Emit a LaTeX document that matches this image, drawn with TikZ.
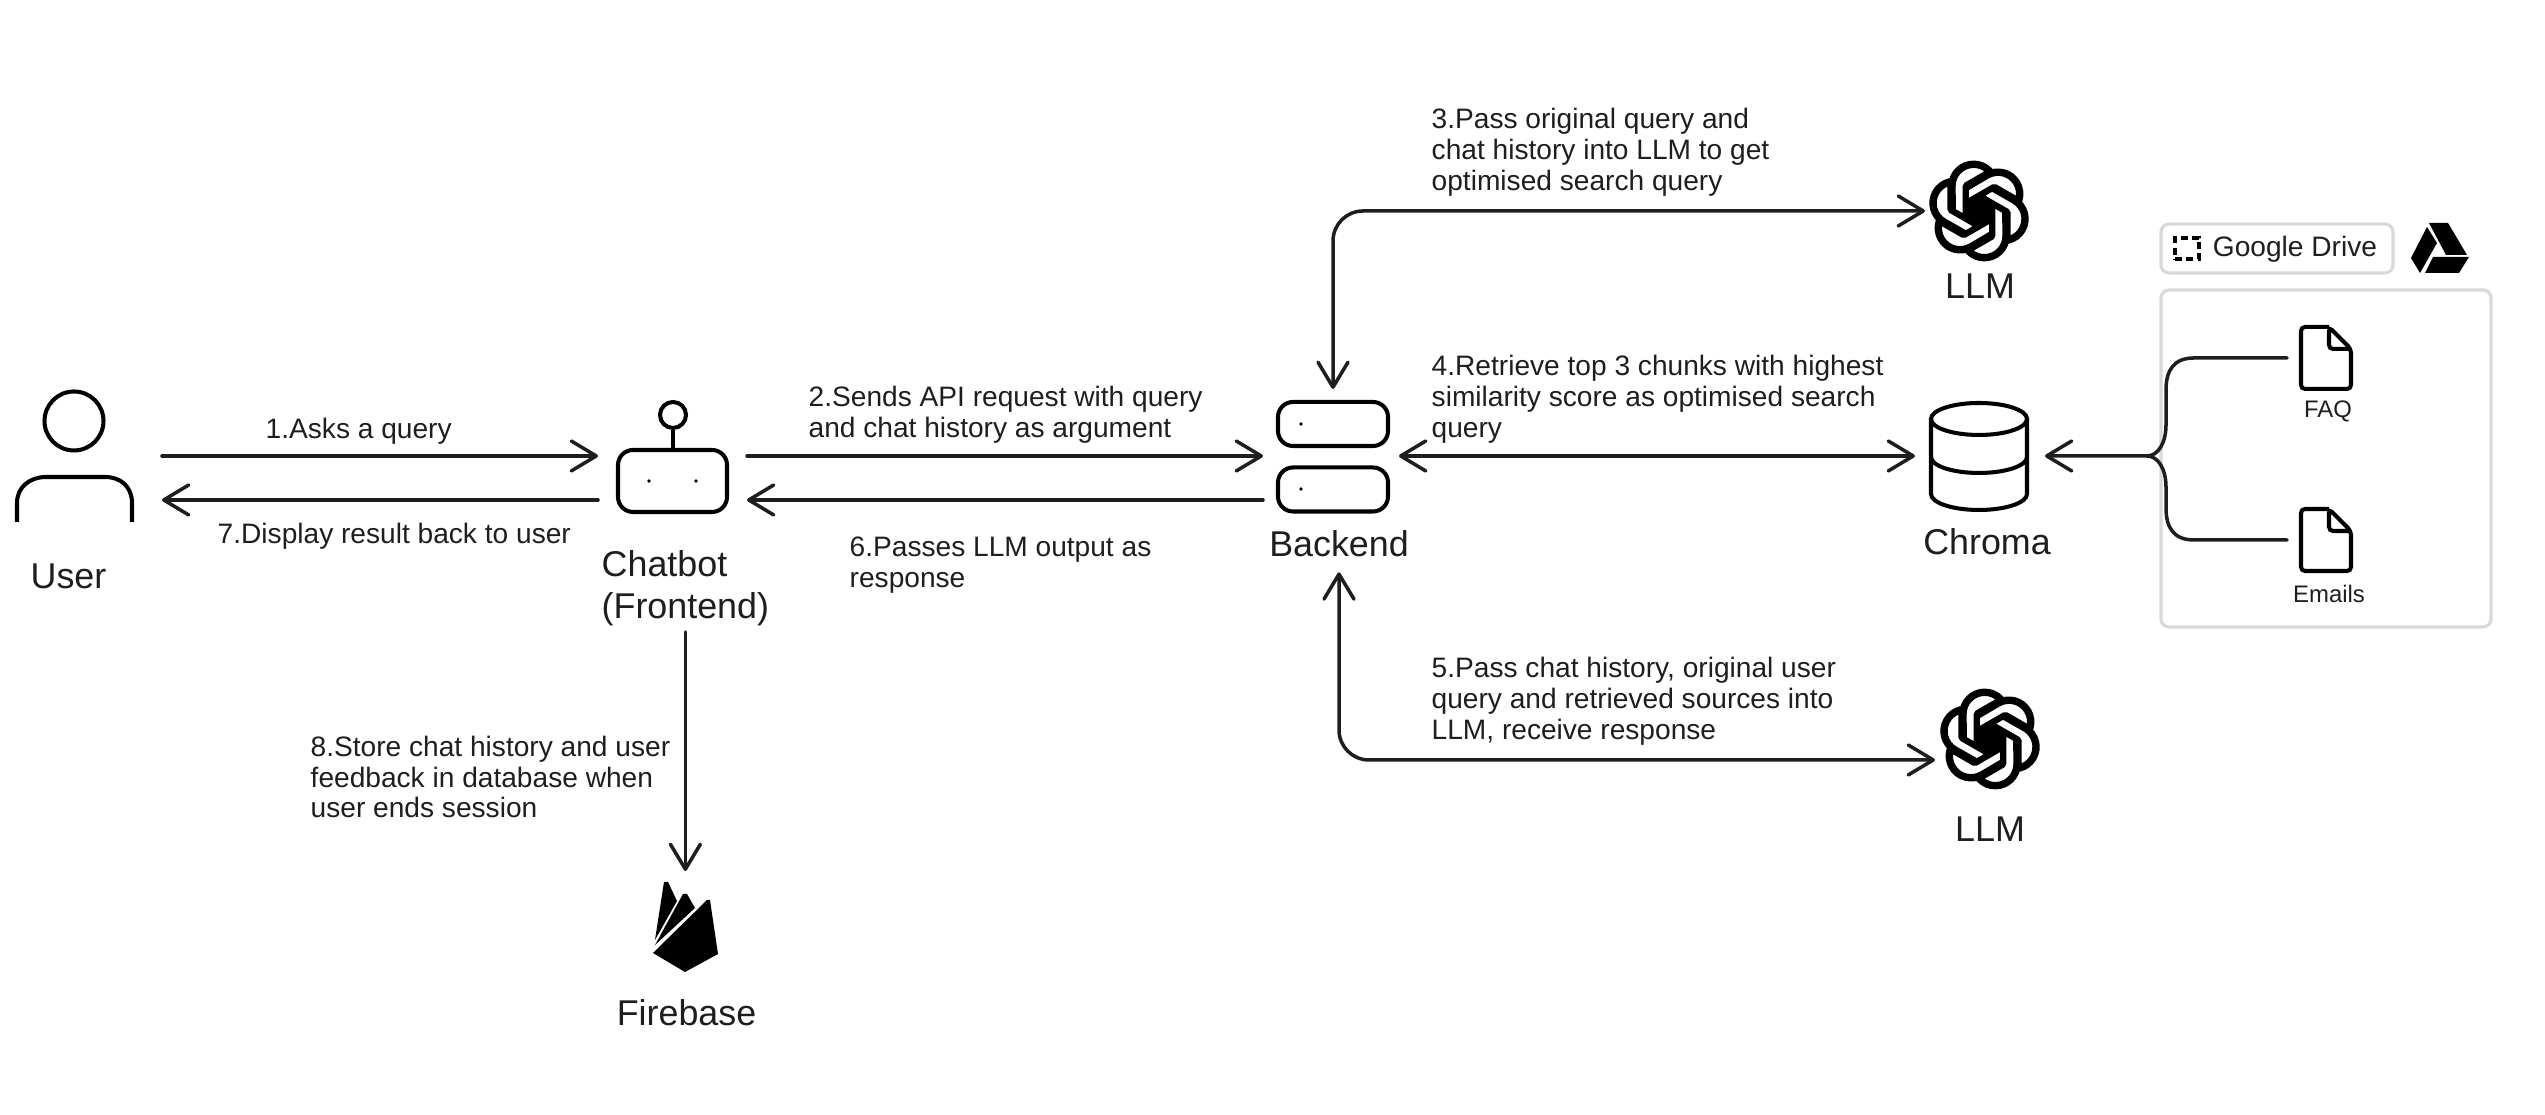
\documentclass[tikz,border=0pt]{standalone}
\usepackage{fontspec}
\setmainfont{Liberation Sans}
\usetikzlibrary{arrows.meta, positioning}

\definecolor{ink}{HTML}{1E1E1E}
\definecolor{panel}{HTML}{D8D9DD}

\tikzset{
  >={Straight Barb[length=2.5mm,width=3mm,round]},
  flow/.style={line width=1pt, color=ink, line cap=round},
  icon/.style={line width=1.15pt, color=black},
  hub/.style={inner sep=0pt, outer sep=0pt},
  note/.style={font=\fontsize{8}{8.8}\selectfont, align=left, anchor=west, inner sep=0pt, text=ink},
  title/.style={font=\fontsize{10.2}{12}\selectfont, align=left, inner sep=1.5mm, text=ink},
  small/.style={font=\fontsize{6.8}{8}\selectfont, inner sep=0pt, text=ink},
  frame/.style={draw=panel, line width=0.9pt, rounded corners=0.8mm, inner sep=0pt}
}

\newcommand{\llmicon}[1]{
  \foreach \a in {0,60,...,300}
    \fill[black, shift={(#1)}, scale=0.0421, yscale=-1, rotate=\a] (1.26,5.93) circle (6.05);
  \fill[black, shift={(#1)}] (0,0) circle (0.25);
  \foreach \a in {0,60,...,300}
    \filldraw[fill=white, draw=black, line width=.5pt, shift={(#1)}, scale=0.0421, yscale=-1, rotate=\a]
      (1.26,10.43) .. controls (0.2,10.43) and (-0.78,10.05) .. (-1.62,9.39)
      -- (-1.48,9.31) -- (3.30,6.55) .. controls (3.55,6.41) and (3.69,6.15) .. (3.69,5.87)
      -- (3.69,-0.87) -- (5.71,0.30) -- (5.75,5.93)
      .. controls (5.75,8.41) and (3.74,10.43) .. (1.26,10.43) -- cycle;
}

\begin{document}
\begin{tikzpicture}
  \useasboundingbox (0,0) rectangle (25.45,11.15);

  % Attachment points
  \node[hub, minimum width=1.62cm, minimum height=.44cm] (user) at (.81,6.37) {};
  \node[hub, minimum width=1.49cm, minimum height=.44cm] (chatbot) at (6.725,6.37) {};
  \node[hub, minimum width=1.36cm, minimum height=.44cm] (backend) at (13.31,6.37) {};
  \node[hub, minimum width=1.30cm, minimum height=1.07cm] (chroma) at (19.80,6.59) {};
  \node[hub, minimum width=1.08cm, minimum height=1.04cm] (llmA) at (19.79,9.04) {};
  \node[hub, minimum width=1.10cm, minimum height=.42cm] (llmB) at (19.90,3.76) {};
  \node[hub, minimum width=.65cm, minimum height=1.12cm] (firebase) at (6.85,1.88) {};
  \node[hub, minimum width=.78cm, minimum height=.61cm] (fileA) at (23.26,7.57) {};
  \node[hub, minimum width=.78cm, minimum height=.61cm] (fileB) at (23.26,5.75) {};
  \coordinate (merge) at (21.47,6.59);

  % User
  \draw[icon] (.74,6.94) circle (.295);
  \draw[icon] (.17,5.93) -- (.17,6.12) .. controls (.17,6.28) and (.30,6.38) .. (.46,6.38)
    -- (1.05,6.38) .. controls (1.21,6.38) and (1.32,6.28) .. (1.32,6.12) -- (1.32,5.93);
  \node[title] (userlabel) at (.685,5.385) {User};

  % Chatbot
  \node[draw, icon, rounded corners=1.5mm, minimum width=1.09cm, minimum height=.62cm, inner sep=0pt] (chatbox) at (6.725,6.34) {};
  \node[draw, icon, circle, minimum size=.26cm, inner sep=0pt] (antenna) at (6.73,7.00) {};
  \draw[icon] (antenna.south) -- (antenna.south |- chatbox.north);
  \foreach \x in {6.49,6.96}
    \fill (\x,6.34) circle (.018);
  \node[title, anchor=west, inner xsep=0pt, inner ysep=.55mm] (chatlabel) at (6.01,5.27) {Chatbot\\(Frontend)};

  % Backend
  \node[draw, icon, rounded corners=1.5mm, minimum width=1.10cm, minimum height=.44cm, inner sep=0pt] (srvA) at (13.33,6.91) {};
  \node[draw, icon, rounded corners=1.5mm, minimum width=1.10cm, minimum height=.44cm, inner sep=0pt] (srvB) at (13.33,6.255) {};
  \foreach \y in {6.91,6.26}
    \fill (13.01,\y) circle (.018);
  \node[title] (backendlabel) at (13.39,5.715) {Backend};

  % LLM
  \llmicon{llmA}
  \llmicon{llmB}
  \node[title] (llmAlabel) at (19.80,8.29) {LLM};
  \node[title] (llmBlabel) at (19.90,2.855) {LLM};

  % Chroma
  \draw[icon] (19.79,6.96) ellipse [x radius=.48, y radius=.16];
  \draw[icon] (19.31,6.96) -- (19.31,6.21) arc [start angle=180, end angle=360, x radius=.48, y radius=.16] -- (20.27,6.96);
  \draw[icon] (19.31,6.58) arc [start angle=180, end angle=360, x radius=.48, y radius=.16];
  \node[title] (chromalabel) at (19.87,5.73) {Chroma};

  % Firebase
  \fill[black] (6.55,1.75) -- (6.64,2.33) -- (6.68,2.33) -- (6.77,2.14) -- cycle;
  \fill[black] (6.55,1.70) -- (6.83,2.21) -- (6.87,2.21) -- (6.95,2.07) -- cycle;
  \fill[black] (6.53,1.62) -- (7.07,2.15) -- (7.10,2.15) -- (7.18,1.61) -- (6.85,1.43) -- cycle;
  \node[title] (firebaselabel) at (6.865,1.02) {Firebase};

  % Google Drive
  \node[frame, minimum width=2.32cm, minimum height=.49cm] (drivetag) at (22.77,8.665) {};
  \node[frame, minimum width=3.30cm, minimum height=3.37cm] (drivebox) at (23.26,6.565) {};
  \node[draw=black, line width=1pt, dash pattern=on 2pt off 1.2pt, minimum width=.24cm, minimum height=.21cm, inner sep=0pt] (drivemark) at (21.87,8.665) {};
  \node[font=\fontsize{8}{9}\selectfont, inner sep=0pt, text=ink] (drivelabel) at (22.95,8.66) {Google Drive};
  \fill[black] (24.29,8.92) -- (24.48,8.92) -- (24.67,8.60) -- (24.46,8.60) -- cycle;
  \fill[black] (24.27,8.88) -- (24.37,8.72) -- (24.20,8.42) -- (24.11,8.57) -- cycle;
  \fill[black] (24.33,8.58) -- (24.69,8.58) -- (24.59,8.42) -- (24.25,8.42) -- cycle;

  % Files
  \foreach \f in {fileA,fileB}
    \draw[icon, shift={(\f)}, rounded corners=.4mm] (.03,.31) -- (-.25,.31) -- (-.25,-.31) -- (.25,-.31) -- (.25,.09) -- (.03,.31) -- (.03,.09) -- (.25,.09);
  \node[small] (faqlabel) at (23.28,7.035) {FAQ};
  \node[small] (emaillabel) at (23.29,5.21) {Emails};

  % Arrows
  \draw[flow, ->] (user.north east) -- (chatbot.north west);
  \draw[flow, ->] (chatbot.south west) -- (user.south east);
  \draw[flow, ->] (chatbot.north east) -- (backend.north west);
  \draw[flow, ->] (backend.south west) -- (chatbot.south east);
  \draw[flow, <->] (backend.north east) -- (chroma.west);
  \draw[flow, <->, rounded corners=3mm, shorten <=1.1mm] (srvA.north) |- (llmA.west);
  \draw[flow, <->, rounded corners=3mm] (backendlabel.south) |- (llmB.south west);
  \draw[flow, ->] (chatlabel.south) -- (chatlabel.south |- firebase.north);
  \draw[flow, ->] (fileA.west) -- (21.94,7.57) .. controls (21.74,7.57) and (21.66,7.45) .. (21.66,7.25)
    -- (21.66,6.90) .. controls (21.66,6.72) and (21.58,6.59) .. (merge) -- (chroma.east);
  \draw[flow] (fileB.west) -- (21.94,5.75) .. controls (21.74,5.75) and (21.66,5.87) .. (21.66,6.07)
    -- (21.66,6.28) .. controls (21.66,6.46) and (21.58,6.59) .. (merge);

  % Steps
  \node[note] (step1) at (2.65,6.835) {1.Asks a query};
  \node[note] (step2) at (8.08,7.005) {2.Sends API request with query\\and chat history as argument};
  \node[note] (step3) at (14.31,9.63) {3.Pass original query and\\chat history into LLM to get\\optimised search query};
  \node[note] (step4) at (14.31,7.155) {4.Retrieve top 3 chunks with highest\\similarity score as optimised search\\query};
  \node[note] (step5) at (14.31,4.14) {5.Pass chat history, original user\\query and retrieved sources into\\LLM, receive response};
  \node[note] (step6) at (8.49,5.50) {6.Passes LLM output as\\response};
  \node[note] (step7) at (2.17,5.785) {7.Display result back to user};
  \node[note] (step8) at (3.10,3.38) {8.Store chat history and user\\feedback in database when\\user ends session};
\end{tikzpicture}
\end{document}
